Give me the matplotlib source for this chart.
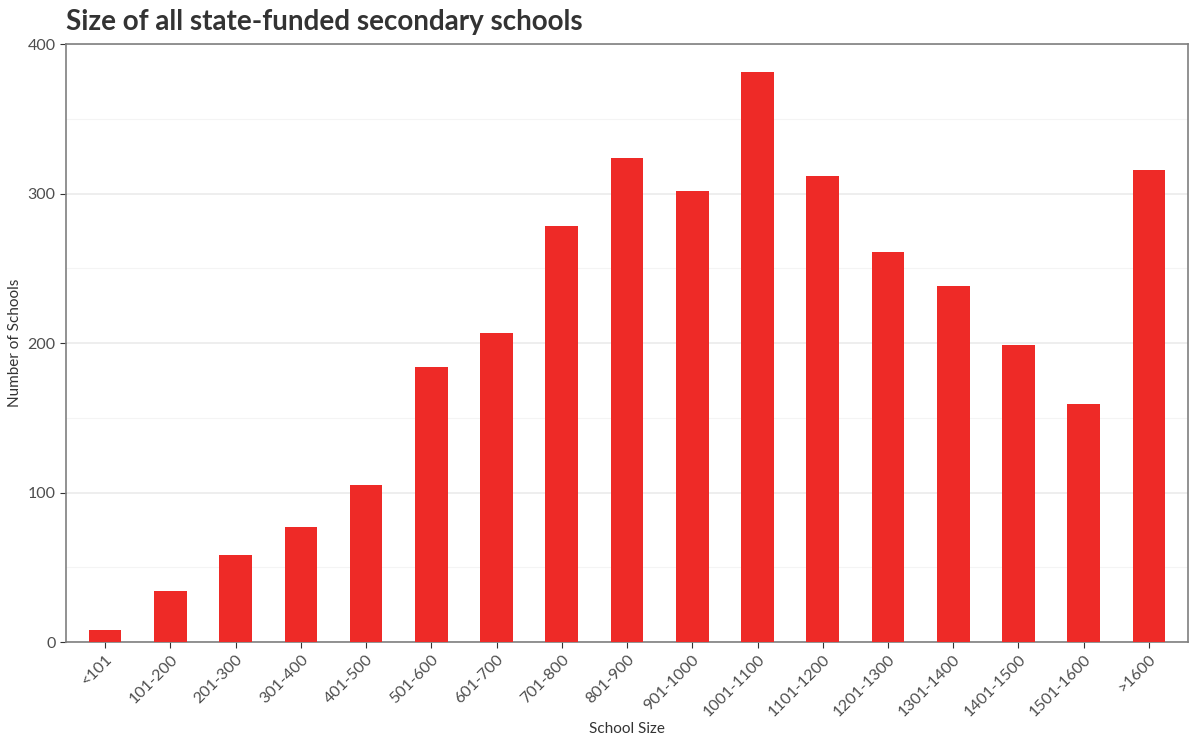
import matplotlib.pyplot as plt
from matplotlib.ticker import MultipleLocator

plt.rcParams['font.family'] = ['Lato', 'DejaVu Sans']

# Data
categories = ['<101', '101-200', '201-300', '301-400', '401-500', '501-600',
              '601-700', '701-800', '801-900', '901-1000', '1001-1100',
              '1101-1200', '1201-1300', '1301-1400', '1401-1500', '1501-1600', '>1600']
counts = [8, 34, 58, 77, 105, 184, 207, 278, 324, 302, 381, 312, 261, 238, 199, 159, 316]

fig = plt.figure(figsize=(11.98, 7.36), dpi=100)
ax = fig.add_axes([0.0551, 0.1277, 0.9366, 0.8125])

x = range(len(categories))
ax.bar(x, counts, width=0.5, color='#EE2A27', zorder=3)

ax.set_xlim(-0.6, len(categories) - 0.4)
ax.set_ylim(0, 400)
ax.yaxis.set_major_locator(MultipleLocator(100))
ax.yaxis.set_minor_locator(MultipleLocator(50))
ax.grid(which='major', axis='y', color='#EBEBEB', linewidth=1.2, zorder=0)
ax.grid(which='minor', axis='y', color='#F4F4F4', linewidth=0.8, zorder=0)

ax.set_xticks(list(x))
ax.set_xticklabels(categories, rotation=45, ha='right', rotation_mode='anchor')
ax.tick_params(axis='both', which='major', labelsize=11.5, colors='#333333',
               labelcolor='#4D4D4D', length=4)
ax.tick_params(axis='y', which='minor', length=0)

for s in ax.spines.values():
    s.set_color('#7F7F7F')
    s.set_linewidth(1.2)

ax.set_xlabel('School Size', fontsize=11, color='#333333', labelpad=2)
ax.set_ylabel('Number of Schools', fontsize=11, color='#333333', labelpad=4)
ax.set_title('Size of all state-funded secondary schools', loc='left',
             fontsize=20, fontweight='bold', color='#333333', pad=10, x=0.0)

fig.savefig('out.png', dpi=100)
